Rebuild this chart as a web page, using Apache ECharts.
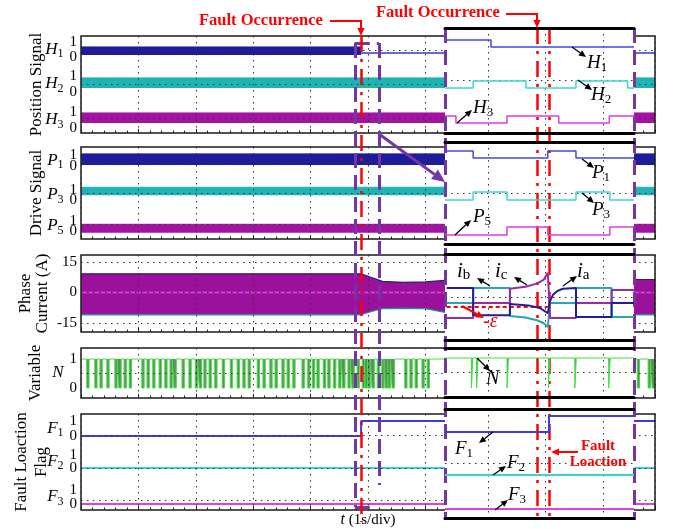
<!DOCTYPE html>
<html><head><meta charset="utf-8">
<script src="https://cdn.jsdelivr.net/npm/echarts@6/dist/echarts.min.js"></script>
<style>html,body{margin:0;padding:0;background:#fff}#c{width:674px;height:529px}</style>
</head><body><div id="c"></div><script>
// ================= DATA =================
const mainTimeMax = 10;            // s, 1 s/div
const insetTimeMax = 3.29;         // zoomed divisions
const insetGridT = [0.75, 1.75, 2.75];
const faultTime = 4.88;
const faultBoxT = [4.77, 5.19, 5.03];
const insetFaultT = 1.60;
const insetLocateT = 1.81;
const channelTicks = [0, 1];

const hallLabels = ['H1', 'H2', 'H3'];
const hallBandLow = [0.13, 0.25, 0.31];
const hallBandHigh = [0.67, 0.88, 0.94];
const hallBandEnd = [4.88, 10, 10];
const hall1AfterFault = 0.27;
const hallInsetInit = [1, 0, 1];
const hallInsetToggles = [[0.80], [0.49, 1.41, 2.28, 3.18], [0.19, 1.08, 1.98, 2.86]];

const driveLabels = ['P1', 'P3', 'P5'];
const driveBandLow = [0.10, 0.47, -0.17];
const driveBandHigh = [1.10, 1.27, 0.67];
const driveInsetInit = [1, 0, 0];
const driveInsetToggles = [[0.49, 1.79, 2.28], [0.49, 1.08, 2.28, 2.87], [1.08, 1.79, 2.87]];

const currentTicks = [-15, 0, 15];
const currentEnvT = [0, 4.88, 5.05, 5.25, 5.6, 6.0, 6.34, 9.63, 10];
const currentEnvUp = [9.2, 9.2, 7.5, 5.5, 5.0, 5.2, 6.0, 6.4, 6.4];
const currentEnvLo = [-11, -11, -9.5, -8, -7.8, -8, -9.8, -11, -11];
const currentCenter = 0;
const ibT = [0.03, 0.49, 0.49, 1.13, 1.13, 1.45, 1.65, 1.79, 1.83, 1.88, 1.95, 2.05, 2.28, 2.28, 2.90, 2.90, 3.29];
const ibV = [7.4, 7.4, -6, -6, -0.5, -1.2, -2.5, -5, 1, 4, 5.8, 7, 7.4, -6.9, -6.9, 0, 0];
const icT = [0.03, 0.49, 0.49, 1.13, 1.13, 1.4, 1.6, 1.72, 1.79, 1.83, 2.28, 2.28, 2.90, 2.90, 3.29];
const icV = [0, 0, 7.4, 7.4, -6.4, -7.2, -8.5, -10, -11.8, 0, 0, 7.4, 7.4, -6.9, -6.9];
const iaT = [0.03, 0.49, 0.49, 1.13, 1.13, 1.4, 1.6, 1.72, 1.79, 1.83, 2.28, 2.28, 2.90, 2.90, 3.29];
const iaV = [-7.4, -7.4, 0, 0, 7.0, 8.0, 9.5, 11.5, 14.8, -7.4, -7.4, 0, 0, 6.4, 6.4];
const epsilonLevel = -2;
const epsilonSpan = [0.03, 1.79];

const nPulses = [0.10, 0.24, 0.33, 0.45, 0.59, 0.66, 0.75, 0.84, 1.06, 1.15, 1.25, 1.36, 1.46, 1.55, 1.62, 1.76, 1.88, 1.99, 2.06, 2.14, 2.23, 2.33, 2.46, 2.60, 2.72, 2.82, 2.91, 3.07, 3.17, 3.29, 3.38, 3.50, 3.59, 3.69, 3.85, 3.95, 4.03, 4.11, 4.22, 4.30, 4.40, 4.49, 4.56, 4.65, 4.72, 4.81, 4.90, 4.95, 5.00, 5.07, 5.16, 5.24, 5.30, 5.35, 5.42, 5.64, 5.73, 5.82, 5.94, 6.03, 9.69, 9.88, 9.95];
const nPulseWidth = 0.04;
const nInsetPulses = [0.46, 0.55, 1.08, 1.80, 2.26, 2.85];
const nInsetPulseWidth = 0.025;

const flagLabels = ['F1', 'F2', 'F3'];
const flagMainToggles = [[4.88], [], []];
const flagInsetToggles = [[1.81], [], []];

// ================= LAYOUT / STYLE =================
const FONT = 'Liberation Serif';
const ML = 81, MW = 574, IL = 445, IW = 189;
const panelTop = [36, 147, 255, 348, 414], panelH = [97, 92, 77, 50, 96];
const insetTop = [28, 142, 254, 348, 409], insetH = [105, 102, 86, 49, 109];
const panelTitle = ['Position Signal', 'Drive Signal', 'Phase\nCurrent (A)', 'Variable', 'Fault Loaction\nFlag'];
const titleGap = [35, 35, 30, 36, 29];
const titleLH = [18, 18, 17, 18, 20];
const panelHLines = [[0.155, 0.505, 0.856], [0.16, 0.5, 0.84], [0.12, 0.51, 0.91], [0.5], [0.1, 0.44, 0.78]];
const mainCh = { H: [[42, 57], [76, 92], [112, 128]], P: [[155, 166], [190, 200], [221, 231]], F: [[421, 436], [455, 468], [490, 504]] };
const insetCh = { H: [[40, 47], [81, 88], [116, 123]], P: [[151, 158], [192, 200], [227, 235]], F: [[416, 432], [459, 475], [493, 509]] };
const bandCol = ['#1c1c9c', '#1eb4b4', '#a312a3'];
const insetCol = ['#4646e6', '#3cd8d8', '#e03ce0'];
const flagCol = ['#3c3ce0', '#36d6d6', '#e040e0'];
const RED = '#ff0000', PURPLE = '#7436a6';
const dotted = { color: '#333', width: 1, type: [1.5, 4.5] };

const grids = [], xAxes = [], yAxes = [], series = [];
function addGrid(grid, xs, ys) {
  grids.push(grid); const gi = grids.length - 1;
  const xi = xAxes.length, yi = yAxes.length;
  xs.forEach(a => { a.gridIndex = gi; xAxes.push(a); });
  ys.forEach(a => { a.gridIndex = gi; yAxes.push(a); });
  return { xi, yi };
}
const hidX = max => ({ type: 'value', min: 0, max, show: false });
const hidY = (min, max, inv) => ({ type: 'value', min, max, inverse: !!inv, show: false });
function subRich(big, small, color) {
  return { v: { fontFamily: FONT, fontStyle: 'italic', fontSize: big, color: color || '#000' },
           s: { fontFamily: FONT, fontSize: small, color: color || '#000', padding: [9, 0, 0, 0] } };
}
const subName = lbl => `{v|${lbl[0]}}{s|${lbl.slice(1)}}`;
// one labelled axis per tick value so that close tick labels are never dropped
function labY(min, max, name, ticks) {
  return ticks.map((t, j) => ({ type: 'value', min, max, z: 3, position: 'left', offset: 0,
    axisLine: { show: false }, axisTick: { show: false, customValues: [t] }, splitLine: { show: false },
    axisLabel: { show: true, customValues: [t], hideOverlap: false, fontFamily: FONT, fontSize: 15, color: '#000', margin: 4 },
    name: j === 0 ? name : '', nameLocation: 'middle', nameRotate: 0, nameGap: 16, nameTextStyle: { rich: subRich(17, 12) } }));
}
function stepData(init, toggles, t1) {
  const d = [[0, init]]; let v = init;
  toggles.forEach(t => { d.push([t, v]); v = 1 - v; d.push([t, v]); });
  d.push([t1, v]); return d;
}
function pulseData(pulses, w, t1) {
  const d = [[0, 1]];
  pulses.forEach(t => { d.push([t, 1], [t, 0], [t + w, 0], [t + w, 1]); });
  d.push([t1, 1]); return d;
}
const zip = (a, b) => a.map((t, i) => [t, b[i]]);

// ---- panel frames + insets ----
for (let i = 0; i < 5; i++) {
  addGrid({ left: ML, width: MW, top: panelTop[i], height: panelH[i], show: true, borderColor: '#1a1a1a', borderWidth: 1.5, backgroundColor: 'rgba(0,0,0,0)', z: 3 },
    [{ type: 'value', min: 0, max: mainTimeMax, interval: 1, z: 3, axisLine: { show: false }, axisLabel: { show: false },
       axisTick: { show: true, inside: true, length: 4, lineStyle: { color: '#222' } },
       minorTick: { show: true, splitNumber: 5, length: 2.5, lineStyle: { color: '#222' } },
       splitLine: { show: true, lineStyle: dotted },
       name: i === 4 ? '{v|t} (1s/div)' : '', nameLocation: 'middle', nameGap: 2,
       nameTextStyle: { fontFamily: FONT, fontSize: 15, color: '#000', rich: { v: { fontFamily: FONT, fontStyle: 'italic', fontSize: 16 } } } }],
    [{ type: 'value', min: 0, max: 1, z: 3, position: 'left', axisLine: { show: false }, axisLabel: { show: false },
       axisTick: { show: false, customValues: panelHLines[i] }, splitLine: { show: true, lineStyle: dotted },
       name: panelTitle[i], nameLocation: 'middle', nameRotate: 90, nameGap: titleGap[i],
       nameTextStyle: { fontFamily: FONT, fontSize: 17, color: '#000', lineHeight: titleLH[i] } }]);
  addGrid({ left: IL, width: IW, top: insetTop[i], height: insetH[i], show: true, backgroundColor: '#fff', borderWidth: 0, z: 4 },
    [{ type: 'value', min: 0, max: insetTimeMax, position: 'bottom', z: 5, axisLine: { show: true, onZero: false, lineStyle: { color: '#000', width: 3 } },
       axisTick: { show: false, customValues: insetGridT }, axisLabel: { show: false }, splitLine: { show: true, lineStyle: dotted } },
     { type: 'value', min: 0, max: insetTimeMax, position: 'top', z: 5, axisLine: { show: true, onZero: false, lineStyle: { color: '#000', width: 3 } },
       axisTick: { show: false }, axisLabel: { show: false }, splitLine: { show: false } }],
    [{ type: 'value', min: 0, max: 1, z: 5, axisLine: { show: false }, axisLabel: { show: false },
       axisTick: { show: false, customValues: [0.5] }, splitLine: { show: true, lineStyle: dotted } }]);
}

// ---- Position & drive signals ----
function bandGroup(key, labels, low, high, end, insetInit, insetToggles) {
  for (let k = 0; k < 3; k++) {
    const [y1, y0] = mainCh[key][k];
    const c = addGrid({ left: ML, width: MW, top: y1, height: y0 - y1 }, [hidX(mainTimeMax)], labY(0, 1, subName(labels[k]), channelTicks));
    series.push({ type: 'line', xAxisIndex: c.xi, yAxisIndex: c.yi, data: [[0, high[k]], [end[k], high[k]]], symbol: 'none', clip: false, z: 2,
      lineStyle: { color: bandCol[k], width: 1 }, areaStyle: { color: bandCol[k], opacity: 1, origin: low[k] } });
    if (key === 'H' && k === 0) {
      series.push({ type: 'line', xAxisIndex: c.xi, yAxisIndex: c.yi, data: [[faultTime, hall1AfterFault], [mainTimeMax, hall1AfterFault]], symbol: 'none', clip: false, z: 2,
        lineStyle: { color: '#3434d0', width: 1.5 } });
    }
    const [iy1, iy0] = insetCh[key][k];
    const ci = addGrid({ left: IL, width: IW, top: iy1, height: iy0 - iy1 }, [hidX(insetTimeMax)], [hidY(0, 1)]);
    series.push({ type: 'line', xAxisIndex: ci.xi, yAxisIndex: ci.yi, data: stepData(insetInit[k], insetToggles[k], insetTimeMax), symbol: 'none', clip: false, z: 6,
      lineStyle: { color: insetCol[k], width: 1.5 } });
  }
}
bandGroup('H', hallLabels, hallBandLow, hallBandHigh, hallBandEnd, hallInsetInit, hallInsetToggles);
bandGroup('P', driveLabels, driveBandLow, driveBandHigh, [10, 10, 10], driveInsetInit, driveInsetToggles);

// ---- Phase current ----
{
  const c = addGrid({ left: ML, width: MW, top: 255, height: 77 }, [hidX(mainTimeMax)], labY(-19.5, 18.5, '', currentTicks));
  series.push({ type: 'line', xAxisIndex: c.xi, yAxisIndex: c.yi, data: zip(currentEnvT, currentEnvUp), symbol: 'none', z: 2,
    lineStyle: { color: '#1f1f8a', width: 1.2 }, areaStyle: { color: '#9c119c', opacity: 1, origin: 0 } });
  series.push({ type: 'line', xAxisIndex: c.xi, yAxisIndex: c.yi, data: zip(currentEnvT, currentEnvLo), symbol: 'none', z: 2,
    lineStyle: { color: '#1a9a9a', width: 1.2 }, areaStyle: { color: '#9c119c', opacity: 1, origin: 0 } });
  series.push({ type: 'line', xAxisIndex: c.xi, yAxisIndex: c.yi, data: [[0, currentCenter], [mainTimeMax, currentCenter]], symbol: 'none', z: 2,
    lineStyle: { color: '#e04ae0', width: 1.5 } });
  const ci = addGrid({ left: IL, width: IW, top: 255, height: 77 }, [hidX(insetTimeMax)], [hidY(-14.3, 23.6)]);
  series.push({ type: 'line', xAxisIndex: ci.xi, yAxisIndex: ci.yi, data: zip(icT, icV), symbol: 'none', clip: false, z: 6, lineStyle: { color: '#26a8a8', width: 2 } });
  series.push({ type: 'line', xAxisIndex: ci.xi, yAxisIndex: ci.yi, data: zip(iaT, iaV), symbol: 'none', clip: false, z: 6, lineStyle: { color: '#9a2aa6', width: 2 } });
  series.push({ type: 'line', xAxisIndex: ci.xi, yAxisIndex: ci.yi, data: zip(ibT, ibV), symbol: 'none', clip: false, z: 6, lineStyle: { color: '#1e1e96', width: 2 },
    markLine: { silent: true, symbol: ['none', 'none'], label: { show: false }, animation: false,
      data: [[{ coord: [epsilonSpan[0], epsilonLevel], lineStyle: { color: RED, width: 2, type: [4, 3] } }, { coord: [epsilonSpan[1], epsilonLevel] }]] } });
}

// ---- Variable N ----
{
  const c = addGrid({ left: ML, width: MW, top: 348, height: 50 }, [hidX(mainTimeMax)], labY(-0.345, 1.38, '{v|N}', channelTicks));
  series.push({ type: 'line', xAxisIndex: c.xi, yAxisIndex: c.yi, data: pulseData(nPulses, nPulseWidth, mainTimeMax), symbol: 'none', z: 2,
    lineStyle: { color: '#3ee03e', width: 1 }, areaStyle: { color: '#1c5a1c', opacity: 0.7, origin: 1 } });
  const ci = addGrid({ left: IL, width: IW, top: 348, height: 50 }, [hidX(insetTimeMax)], [hidY(-0.333, 1.333)]);
  series.push({ type: 'line', xAxisIndex: ci.xi, yAxisIndex: ci.yi, data: pulseData(nInsetPulses, nInsetPulseWidth, insetTimeMax), symbol: 'none', z: 6,
    lineStyle: { color: '#3ee03e', width: 1 }, areaStyle: { color: '#1c5a1c', opacity: 0.7, origin: 1 } });
}

// ---- Fault location flags ----
for (let k = 0; k < 3; k++) {
  const [y1, y0] = mainCh.F[k];
  const c = addGrid({ left: ML, width: MW, top: y1, height: y0 - y1 }, [hidX(mainTimeMax)], labY(0, 1, subName(flagLabels[k]), channelTicks));
  series.push({ type: 'line', xAxisIndex: c.xi, yAxisIndex: c.yi, data: stepData(0, flagMainToggles[k], mainTimeMax), symbol: 'none', clip: false, z: 2,
    lineStyle: { color: flagCol[k], width: 2 } });
  const [iy1, iy0] = insetCh.F[k];
  const ci = addGrid({ left: IL, width: IW, top: iy1, height: iy0 - iy1 }, [hidX(insetTimeMax)], [hidY(0, 1)]);
  series.push({ type: 'line', xAxisIndex: ci.xi, yAxisIndex: ci.yi, data: stepData(0, flagInsetToggles[k], insetTimeMax), symbol: 'none', clip: false, z: 6,
    lineStyle: { color: flagCol[k], width: 2 } });
}

// ---- overlays: fault lines & zoom box (y in page px) ----
const redStyle = { color: RED, width: 2.5, type: [16, 7, 3, 7] };
const purStyle = { color: PURPLE, width: 3, type: [15, 7] };
function vline(x, ya, yb, st) { return [{ coord: [x, ya], lineStyle: st }, { coord: [x, yb] }]; }
{
  const c = addGrid({ left: ML, width: MW, top: 0, height: 529 }, [hidX(mainTimeMax)], [hidY(0, 529, true)]);
  series.push({ type: 'line', xAxisIndex: c.xi, yAxisIndex: c.yi, data: [[faultTime, 36]], symbol: 'none', lineStyle: { width: 0 }, z: 8,
    markLine: { silent: true, symbol: ['none', 'none'], label: { show: false }, animation: false, data: [
      vline(faultBoxT[0], 43, 507, purStyle), vline(faultBoxT[1], 43, 485, purStyle),
      [{ coord: [faultBoxT[0], 43], lineStyle: purStyle }, { coord: [faultBoxT[1], 43] }],
      [{ coord: [faultBoxT[0], 507], lineStyle: purStyle }, { coord: [faultBoxT[2], 507] }],
      vline(faultTime, 36, 522, redStyle)] } });
  const ci = addGrid({ left: IL, width: IW, top: 0, height: 529 }, [hidX(insetTimeMax)], [hidY(0, 529, true)]);
  series.push({ type: 'line', xAxisIndex: ci.xi, yAxisIndex: ci.yi, data: [[insetFaultT, 28]], symbol: 'none', lineStyle: { width: 0 }, z: 8,
    markLine: { silent: true, symbol: ['none', 'none'], label: { show: false }, animation: false, data: [
      vline(0, 28, 520, purStyle), vline(insetTimeMax, 28, 520, purStyle),
      vline(insetFaultT, 28, 517, redStyle), vline(insetLocateT, 28, 517, redStyle)] } });
}

// ---- annotations ----
function arrow(x1, y1, x2, y2, color, w, head) {
  head = head || 7; const a = Math.atan2(y2 - y1, x2 - x1);
  const bx = x2 - head * Math.cos(a), by = y2 - head * Math.sin(a), hw = head * 0.45;
  return [{ type: 'line', z: 100, shape: { x1, y1, x2: bx, y2: by }, style: { stroke: color, lineWidth: w } },
          { type: 'polygon', z: 100, shape: { points: [[x2, y2], [bx + hw * Math.sin(a), by - hw * Math.cos(a)], [bx - hw * Math.sin(a), by + hw * Math.cos(a)]] }, style: { fill: color } }];
}
function txt(x, y, text, opt) {
  opt = opt || {};
  return { type: 'text', z: 100, x, y, style: { text, fill: opt.color || '#000', font: opt.font || `17px ${FONT}`,
    align: opt.align || 'left', verticalAlign: 'middle', textAlign: opt.align || 'left', textVerticalAlign: 'middle', rich: opt.rich, lineHeight: opt.lh } };
}
const lab = (x, y, l, color) => txt(x, y, `{v|${l[0]}}{s|${l.slice(1)}}`, { rich: subRich(19, 13, color), color });
const G = [];
G.push(txt(199, 21, 'Fault Occurrence', { color: RED, font: `bold 16.5px ${FONT}` }));
G.push({ type: 'polyline', z: 100, shape: { points: [[330, 21], [361, 21], [361, 29]] }, style: { stroke: RED, lineWidth: 2, fill: null } });
G.push(...arrow(361, 27, 361, 36, RED, 2, 8));
G.push(txt(376, 13, 'Fault Occurrence', { color: RED, font: `bold 16.5px ${FONT}` }));
G.push({ type: 'polyline', z: 100, shape: { points: [[506, 14], [537, 14], [537, 21]] }, style: { stroke: RED, lineWidth: 2, fill: null } });
G.push(...arrow(537, 19, 537, 28, RED, 2, 8));
G.push(txt(598, 454, 'Fault\nLoaction', { color: RED, font: `bold 15px ${FONT}`, align: 'center', lh: 16 }));
G.push(...arrow(578, 452, 551, 452, RED, 2, 8));
G.push(...arrow(379, 134, 445, 182, PURPLE, 3, 13));
G.push(lab(587, 63, 'H1')); G.push(...arrow(572, 47, 586, 57, '#000', 1.3));
G.push(lab(591, 95, 'H2')); G.push(...arrow(578, 80, 592, 90, '#000', 1.3));
G.push(lab(473, 108, 'H3')); G.push(...arrow(457, 123, 472, 110, '#000', 1.3));
G.push(lab(592, 173, 'P1')); G.push(...arrow(582, 159, 594, 168, '#000', 1.3));
G.push(lab(592, 210, 'P3')); G.push(...arrow(582, 193, 594, 203, '#000', 1.3));
G.push(lab(473, 217, 'P5')); G.push(...arrow(455, 235, 471, 220, '#000', 1.3));
G.push(txt(457, 271, '{v|i}{s|b}', { rich: subRich(21, 15) })); G.push(...arrow(490, 286, 477, 278, '#000', 1.3));
G.push(txt(495, 271, '{v|i}{s|c}', { rich: subRich(21, 15) })); G.push(...arrow(527, 285, 514, 277, '#000', 1.3));
G.push(txt(577, 271, '{v|i}{s|a}', { rich: subRich(21, 15) })); G.push(...arrow(563, 286, 577, 276, '#000', 1.3));
G.push(txt(483, 322, '-ε', { color: RED, font: `italic 20px ${FONT}` })); G.push(...arrow(462, 306, 484, 318, RED, 2, 8));
G.push(txt(486, 379, 'N', { font: `italic 20px ${FONT}` })); G.push(...arrow(477, 358, 490, 371, '#000', 1.3));
G.push(lab(455, 449, 'F1')); G.push(...arrow(493, 432, 479, 443, '#000', 1.3));
G.push(lab(507, 463, 'F2')); G.push(...arrow(493, 475, 506, 466, '#000', 1.3));
G.push(lab(508, 495, 'F3')); G.push(...arrow(495, 510, 508, 500, '#000', 1.3));

const chart = echarts.init(document.getElementById('c'));
chart.setOption({
  animation: false, backgroundColor: '#fff', textStyle: { fontFamily: FONT },
  grid: grids, xAxis: xAxes, yAxis: yAxes, series, graphic: { elements: G }
});
</script></body></html>
